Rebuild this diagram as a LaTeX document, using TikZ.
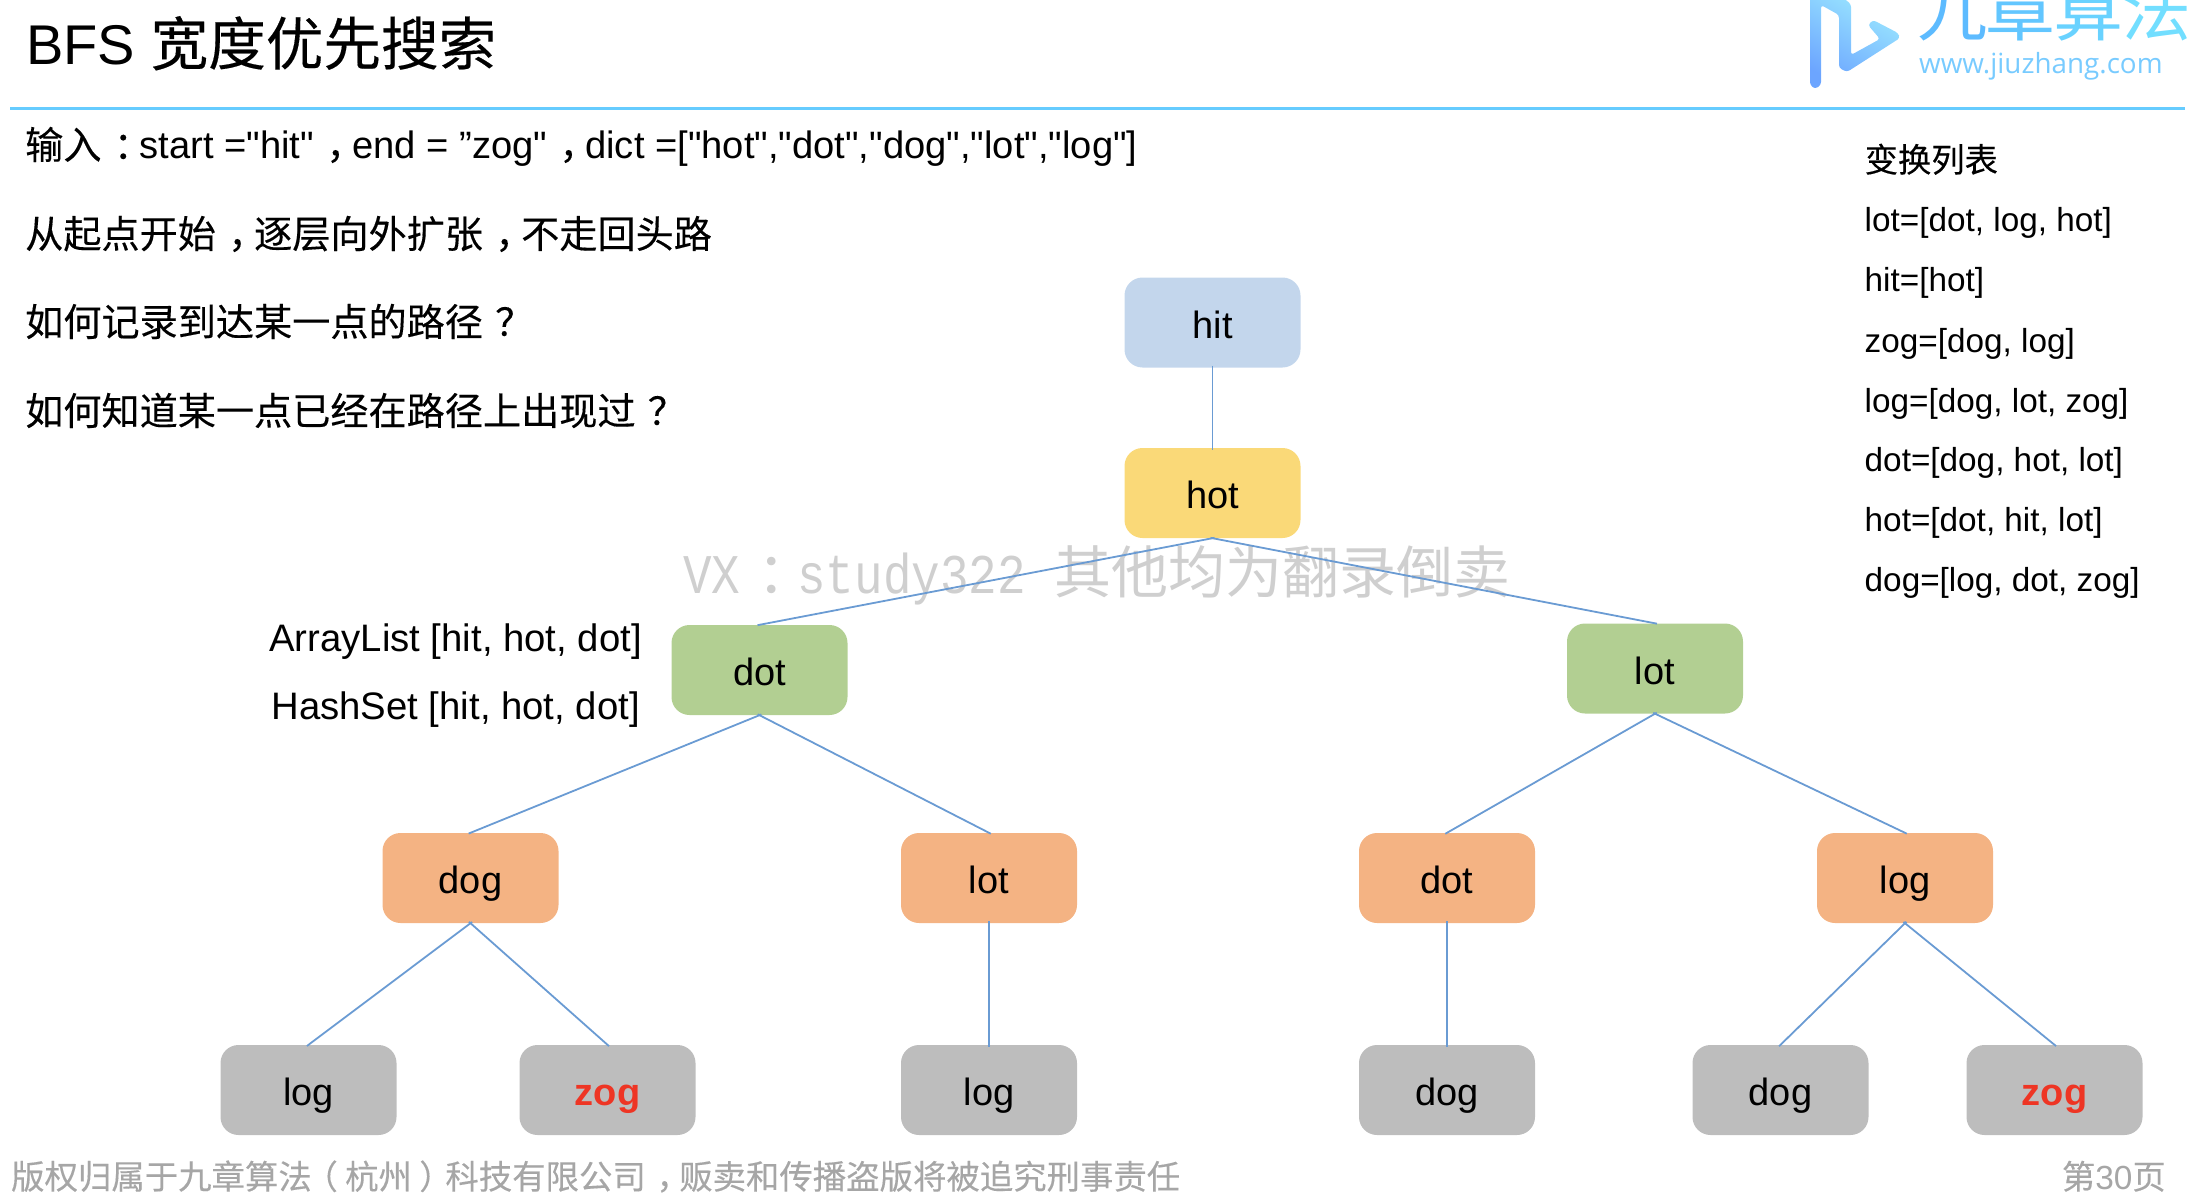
\documentclass[tikz,border=0pt]{standalone}
\usepackage{fontspec}
\setmainfont[Ligatures=TeXOff]{Liberation Sans}
\newfontfamily\cjk[FakeBold=0.25]{Noto Sans CJK SC}
\newfontfamily\cjkw{Noto Sans CJK SC}
\newfontfamily\wmfont[FakeStretch=0.85]{Liberation Mono}
\newfontfamily\urlfont{Open Sans}
\newcommand{\Cn}[1]{{\cjk #1}}
\newcommand{\Pn}[1]{{\cjk\kern.32em #1\kern-.32em}}
\newcommand{\PL}{{\cjk\kern-.22em （\kern.22em}}
\newcommand{\PR}{{\cjk\kern.22em ）\kern-.22em}}
\newcommand{\Fs}[1]{\fontsize{#1}{#1}\selectfont}
\definecolor{hitc}{HTML}{C3D6EC}
\definecolor{hotc}{HTML}{FAD978}
\definecolor{greenc}{HTML}{B2CF92}
\definecolor{orangec}{HTML}{F4B383}
\definecolor{grayc}{HTML}{BDBDBD}
\definecolor{linec}{HTML}{6A9BD3}
\definecolor{redc}{HTML}{EE3524}
\definecolor{footc}{HTML}{A6A6A6}
\definecolor{wmc}{HTML}{CFCFCF}
\definecolor{rulec}{HTML}{66CCFF}
\tikzset{
  box/.style={rounded corners=18pt,minimum width=176pt,minimum height=90pt,inner sep=0pt,text=black,font=\Fs{38},text height=31pt,text depth=0pt},
  hitbox/.style={box,fill=hitc},
  hotbox/.style={box,fill=hotc},
  lvlone/.style={box,fill=greenc},
  lvltwo/.style={box,fill=orangec},
  leaf/.style={box,fill=grayc},
  goal/.style={leaf,text=redc,font=\Fs{38}\bfseries},
  edge/.style={draw=linec,line width=1.8pt,shorten >=-2pt,shorten <=-2pt},
  body/.style={anchor=base west,inner sep=0pt,font=\Fs{38.15},text=black},
  list/.style={anchor=base west,inner sep=0pt,font=\Fs{33.3},text=black},
  note/.style={anchor=base east,inner sep=0pt,font=\Fs{38.3},text=black},
  foot/.style={inner sep=0pt,font=\Fs{33.4},text=footc},
  logochar/.style={anchor=base west,inner sep=0pt,font=\Fs{70}\cjkw},
}
\begin{document}
\begin{tikzpicture}[x=1pt,y=-1pt]
\useasboundingbox (0,0) rectangle (2190,1196);
\begin{scope}
\clip (0,0) rectangle (2190,1196);
% logo
\shade[top color=white!55!rulec!85!cyan,bottom color=rulec!70!blue!80!white,shading angle=-30,rounded corners=3pt]
  (1810,85) -- (1810,-12) -- (1830,-12) -- (1851,4) -- (1851,55) -- (1880,39) -- (1868,25) -- (1873,20)
  -- (1898,33) -- (1900,38) -- (1847,72) -- (1839,68) -- (1839,15) -- (1821,5) -- (1821,85) -- (1815,89) -- cycle;
\node[logochar,text={rgb,255:red,93;green,187;blue,255}] (logoa) at (1917,36) {九};
\node[logochar,text={rgb,255:red,98;green,198;blue,255}] (logob) at (1985,36) {章};
\node[logochar,text={rgb,255:red,105;green,210;blue,255}] (logoc) at (2053,36) {算};
\node[logochar,text={rgb,255:red,114;green,222;blue,255}] (logod) at (2121,36) {法};
\end{scope}
\node[anchor=base west,inner sep=0pt,font=\Fs{27.8}\urlfont,text={rgb,255:red,120;green,203;blue,255}] (logourl) at (1919,74) {www.jiuzhang.com};
\draw[rulec,line width=3pt] (10,108.5) -- (2185,108.5);
% title
\node[anchor=base west,inner sep=0pt,font=\Fs{56}] (title) at (26,65) {BFS \Cn{\Fs{57.6}宽度优先搜索}};
% body
\node[body] (l1) at (25,159) {\Cn{输入}\Pn{：}start ="hit"\Pn{，}end = ”zog"\Pn{，}dict =["hot","dot","dog","lot","log"]};
\node[body] (l2) at (25,248) {\Cn{从起点开始}\Pn{，}\Cn{逐层向外扩张}\Pn{，}\Cn{不走回头路}};
\node[body] (l3) at (25,336) {\Cn{如何记录到达某一点的路径}\Pn{？}};
\node[body] (l4) at (25,425) {\Cn{如何知道某一点已经在路径上出现过}\Pn{？}};
% watermark
\node[anchor=base west,inner sep=0pt,text=wmc,font=\Fs{56}\wmfont] (wm) at (683,593) {VX{\cjkw\Fs{57}\kern.3em：\kern-.3em}study322 {\cjkw\Fs{57}其他均为翻录倒卖}};
% right list
\node[list] (r0) at (1864.5,172) {\Cn{变换列表}};
\node[list] (r1) at (1864.5,231) {lot=[dot, log, hot]};
\node[list] (r2) at (1864.5,291) {hit=[hot]};
\node[list] (r3) at (1864.5,352) {zog=[dog, log]};
\node[list] (r4) at (1864.5,412) {log=[dog, lot, zog]};
\node[list] (r5) at (1864.5,471) {dot=[dog, hot, lot]};
\node[list] (r6) at (1864.5,531) {hot=[dot, hit, lot]};
\node[list] (r7) at (1864.5,591) {dog=[log, dot, zog]};
% notes
\node[note] (n1) at (642,651) {ArrayList [hit, hot, dot]};
\node[note] (n2) at (640,719) {HashSet [hit, hot, dot]};
% tree
\node[hitbox] (hit) at (1212.5,322.5) {hit};
\node[hotbox] (hot) at (1212.5,493) {hot};
\node[lvlone] (dotL) at (759.5,670) {dot};
\node[lvlone] (lotR) at (1655,668.5) {lot};
\node[lvltwo] (dogA) at (470.5,878) {dog};
\node[lvltwo] (lotA) at (989,878) {lot};
\node[lvltwo] (dotB) at (1447,878) {dot};
\node[lvltwo] (logB) at (1905,878) {log};
\node[leaf] (logC) at (308.5,1090) {log};
\node[goal] (zogC) at (607.5,1090) {zog};
\node[leaf] (logD) at (989,1090) {log};
\node[leaf] (dogD) at (1447,1090) {dog};
\node[leaf] (dogE) at (1780.5,1090) {dog};
\node[goal] (zogE) at (2054.5,1090) {zog};
\foreach \a/\b in {hit/hot,hot/dotL,hot/lotR,dotL/dogA,dotL/lotA,lotR/dotB,lotR/logB,dogA/logC,dogA/zogC,lotA/logD,dotB/dogD,logB/dogE,logB/zogE}
  \draw[edge] (\a.south) -- (\b.north);
% footer
\node[foot,anchor=base west] (f1) at (11,1189) {\Cn{版权归属于九章算法}\PL\Cn{杭州}\PR\Cn{科技有限公司}\Pn{，}\Cn{贩卖和传播盗版将被追究刑事责任}};
\node[foot,anchor=base east] (f2) at (2166,1189) {\Cn{第}30\Cn{页}};
\end{tikzpicture}
\end{document}
